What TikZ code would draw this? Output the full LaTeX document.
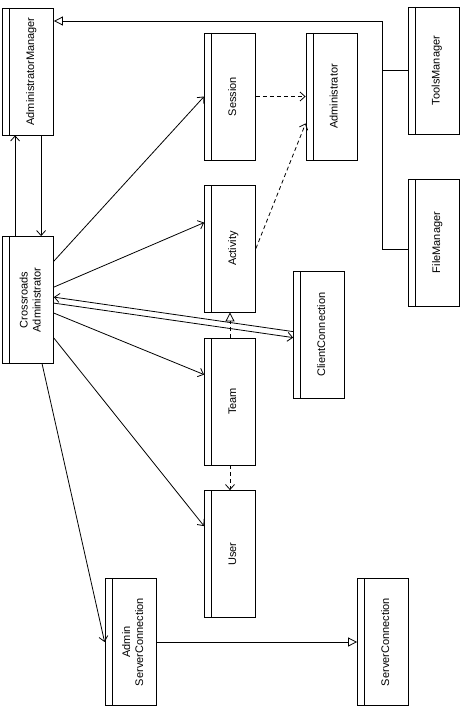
\documentclass[tikz,border=0pt]{standalone}
\usepackage{fontspec}
\setmainfont{Liberation Sans}
\usetikzlibrary{arrows.meta,calc}
\begin{document}
\begin{tikzpicture}[x=1pt,y=-1pt,
  line width=0.8pt,
  cls/.style={draw, rectangle, minimum width=51pt, minimum height=127pt, inner sep=0pt,
    font=\fontsize{11}{13}\selectfont,
    path picture={\draw ([xshift=7pt]path picture bounding box.north west) -- ([xshift=7pt]path picture bounding box.south west);}},
  nav/.style={-{Straight Barb[length=5pt,width=9pt]}},
  inh/.style={-{Triangle[open,length=9pt,width=9pt]}},
  dsh/.style={dash pattern=on 4pt off 3pt}]
\useasboundingbox (0,0) rectangle (462,717);
\newcommand{\lbl}[1]{\rotatebox{90}{\begin{tabular}{@{}c@{}}#1\end{tabular}}}
% classes
\node[cls] (am) at (28,71.5) {\hspace{7pt}\lbl{AdministratorManager}};
\node[cls] (ca) at (28,300) {\hspace{7pt}\lbl{Crossroads\\Administrator}};
\node[cls] (session) at (230,96.5) {\hspace{7pt}\lbl{Session}};
\node[cls] (admin) at (331.5,96.5) {\hspace{7pt}\lbl{Administrator}};
\node[cls] (tools) at (433.5,70.5) {\hspace{7pt}\lbl{ToolsManager}};
\node[cls] (file) at (434,242.5) {\hspace{7pt}\lbl{FileManager}};
\node[cls] (activity) at (230,248.5) {\hspace{7pt}\lbl{Activity}};
\node[cls] (client) at (319,334.5) {\hspace{7pt}\lbl{ClientConnection}};
\node[cls] (team) at (230,401.5) {\hspace{7pt}\lbl{Team}};
\node[cls] (user) at (230,554) {\hspace{7pt}\lbl{User}};
\node[cls] (asc) at (130.5,642) {\hspace{7pt}\lbl{Admin\\ServerConnection}};
\node[cls] (sc) at (383,642) {\hspace{7pt}\lbl{ServerConnection}};
% inheritance bus to AdministratorManager
\coordinate (bus) at (382,21);
\draw[inh] ($(file.west)+(0,6.5)$) -| (bus) -- (bus -| am.east);
\draw (tools.west) -- (tools.west -| bus);
% am <-> ca
\draw[nav] ($(ca.north west)+(13,0)$) -- ($(am.south west)+(13,0)$);
\draw[nav] ($(am.south west)+(39,0)$) -- ($(ca.north west)+(39,0)$);
% dependencies
\draw[nav,dsh] (session.east) -- (admin.west);
\draw[nav,dsh] (activity.east) -- ($(admin.south west)+(0,-37)$);
\draw[inh,dsh] (team.north) -- (activity.south);
\draw[nav,dsh] (team.south) -- (user.north);
% associations from ca
\draw[nav] ($(ca.north east)+(0,25)$) -- (session.west);
\draw[nav] ($(ca.north east)+(0,51)$) -- ($(activity.north west)+(0,38)$);
\draw[nav] ($(client.north west)+(0,61)$) -- ($(ca.north east)+(0,61)$);
\draw[nav] ($(ca.north east)+(0,67)$) -- ($(client.north west)+(0,67)$);
\draw[nav] ($(ca.north east)+(0,77)$) -- ($(team.north west)+(0,37)$);
\draw[nav] ($(ca.north east)+(0,102)$) -- ($(user.north west)+(0,36)$);
\draw[nav] ($(ca.south west)+(40,0)$) -- (asc.west);
% server connection inheritance
\draw[inh] (asc.east) -- (sc.west);
\end{tikzpicture}
\end{document}
